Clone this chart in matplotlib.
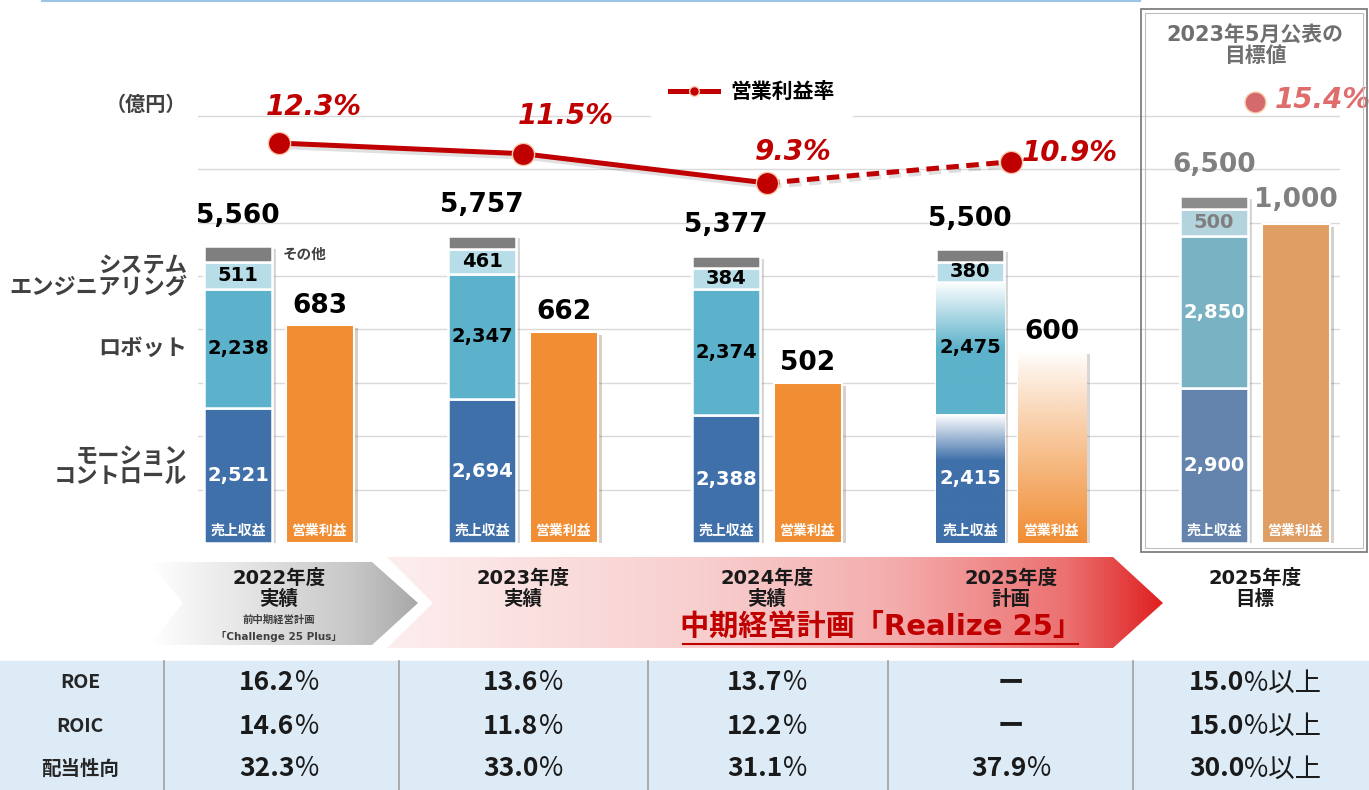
import numpy as np
import matplotlib
matplotlib.use('Agg')
import matplotlib.pyplot as plt
from matplotlib.patches import Polygon, Rectangle
from matplotlib.lines import Line2D
from matplotlib.colors import to_rgb, LinearSegmentedColormap
import matplotlib.patheffects as pe
import matplotlib.transforms as mtransforms

plt.rcParams['font.family'] = ['DejaVu Sans', 'Noto Sans CJK JP']

# ---- data (億円, %) ----
periods = ['2022年度\n実績', '2023年度\n実績', '2024年度\n実績', '2025年度\n計画', '2025年度\n目標']
motion = [2521, 2694, 2388, 2415, 2900]
robot = [2238, 2347, 2374, 2475, 2850]
system_eng = [511, 461, 384, 380, 500]
revenue_total = [5560, 5757, 5377, 5500, 6500]
op_profit = [683, 662, 502, 600, 1000]
op_margin = [12.3, 11.5, 9.3, 10.9, 15.4]

row_names = ['ROE', 'ROIC', '配当性向']
roe = [16.2, 13.6, 13.7, None, 15.0]
roic = [14.6, 11.8, 12.2, None, 15.0]
payout = [32.3, 33.0, 31.1, 37.9, 30.0]

other = [t - m - r - s for t, m, r, s in zip(revenue_total, motion, robot, system_eng)]

# ---- style ----
RED = '#C00000'
GRAY_T = '#7F7F7F'
c_motion = ['#3F70AA'] * 4 + ['#6484AE']
c_robot = ['#5DB2CB'] * 4 + ['#79B3C3']
c_se = ['#B6DDE8'] * 4 + ['#B4D4DD']
c_other = ['#7F7F7F'] * 4 + ['#8C8C8C']
c_profit = ['#F18D33'] * 4 + ['#DE9E64']
margin_label_offsets = [(25, 26), (31, 27), (19, 22), (42, 6), (49, 1.5)]

W, H = 1369, 790
fig = plt.figure(figsize=(W / 100, H / 100), dpi=100)


def fpx(x, y, w, h):
    return [x / W, 1 - (y + h) / H, w / W, h / H]


ax = fig.add_axes(fpx(198, 10, 1142, 533))
ax_p = ax.twinx()
ax_m = ax.twinx()

x = np.arange(len(motion))
off, bw = 0.168, 0.279
XLIM = (-0.332, 4.348)
REV_LIM = (0, 533 / 0.0534)
PRO_LIM = (0, 533 / 0.319)
MAR_LIM = (-17.7, 22.28)

shadow = [pe.SimplePatchShadow(offset=(2.5, -2), alpha=0.22), pe.Normal()]


def fade_bar(axis, bar, color, fade, power=1.0):
    x0, y0 = bar.get_x(), bar.get_y()
    w, h = bar.get_width(), bar.get_height()
    n = 200
    depth = np.linspace(1, 0, n)
    alpha = np.clip(depth / fade, 0, 1) ** power
    rgba = np.zeros((n, 1, 4))
    rgba[..., :3] = to_rgb(color)
    rgba[..., 3] = alpha[:, None]
    axis.imshow(rgba, extent=(x0, x0 + w, y0, y0 + h), origin='lower',
                aspect='auto', interpolation='bilinear', zorder=3.5)
    bar.set_facecolor('white')


# revenue stacks
ax.bar(x - off, revenue_total, bw, color='white', zorder=2, path_effects=shadow)
bottom = np.zeros(len(x))
layers = [
    (motion, c_motion, ['white'] * 5),
    (robot, c_robot, ['black'] * 4 + ['white']),
    (system_eng, c_se, ['black'] * 4 + [GRAY_T]),
    (other, c_other, None),
]
seg_bars = []
for vals, cols, tcols in layers:
    bars = ax.bar(x - off, vals, bw, bottom=bottom, color=cols,
                  edgecolor='white', linewidth=1.8, zorder=3)
    seg_bars.append(bars)
    if tcols:
        for b, v, tc in zip(bars, vals, tcols):
            ax.text(b.get_x() + bw / 2, b.get_y() + v / 2, f'{v:,}', ha='center',
                    va='center', fontsize=14, weight='bold', color=tc, zorder=6)
    bottom += np.array(vals)

fade_bar(ax, seg_bars[0][3], c_motion[3], 0.36)
fade_bar(ax, seg_bars[1][3], c_robot[3], 0.5)

for i, t in enumerate(revenue_total):
    ax.annotate(f'{t:,}', (x[i] - off, t), xytext=(0, 22), textcoords='offset points',
                ha='center', va='center', fontsize=19, weight='bold',
                color='black' if i < 4 else '#808080')
    ax.annotate('売上収益', (x[i] - off, 0), xytext=(0, 9), textcoords='offset points',
                ha='center', va='center', fontsize=10, weight='bold', color='white', zorder=7)

ax.annotate('その他', (x[0] - off + bw / 2, revenue_total[0] - other[0] / 2), xytext=(8, 0),
            textcoords='offset points', ha='left', va='center', fontsize=10.5,
            weight='bold', color='#404040')

# operating profit
pbars = ax_p.bar(x + off, op_profit, bw, color=c_profit, edgecolor='white',
                 linewidth=1.5, zorder=3, path_effects=shadow)
fade_bar(ax_p, pbars[3], c_profit[3], 1.0, power=0.9)
for i, v in enumerate(op_profit):
    ax_p.annotate(f'{v:,}', (x[i] + off, v), xytext=(0, 14 if i < 4 else 17),
                  textcoords='offset points', ha='center', va='center', fontsize=19,
                  weight='bold', color='black' if i < 4 else '#808080')
    ax_p.annotate('営業利益', (x[i] + off, 0), xytext=(0, 9), textcoords='offset points',
                  ha='center', va='center', fontsize=10, weight='bold', color='white', zorder=7)

# operating margin line
lshadow = [pe.SimpleLineShadow(offset=(1.5, -2.5), alpha=0.12), pe.Normal()]
ax_m.plot(x[:3], op_margin[:3], color=RED, lw=3.6, zorder=4, path_effects=lshadow)
ax_m.plot(x[2:4], op_margin[2:4], color=RED, lw=3.6, ls=(0, (2.5, 1.5)), zorder=4,
          path_effects=lshadow)
ax_m.plot(x[:4], op_margin[:4], ls='none', marker='o', ms=16, mfc=RED, mec='#F8CBAD',
          mew=1, zorder=5)
ax_m.plot(x[4:], op_margin[4:], ls='none', marker='o', ms=15, mfc='#D46A6A', mec='#F8CBAD',
          mew=1, zorder=5)
for i, v in enumerate(op_margin):
    ax_m.annotate(f'{v}%', (x[i], v), xytext=margin_label_offsets[i], textcoords='offset points',
                  ha='center', va='center', fontsize=20, weight='bold', style='italic',
                  color=RED if i < 4 else '#E06C6C')

ax.set_yticks(np.arange(1000, 9000, 1000))
ax.grid(axis='y', color='#D9D9D9', lw=1)
ax.set_axisbelow(True)
ax.tick_params(left=False, labelleft=False, bottom=False, labelbottom=False,
               right=False, labelright=False)
for s in ax.spines.values():
    s.set_visible(False)
ax_p.set_axis_off()
ax_m.set_axis_off()
ax.set_xlim(XLIM)
ax.set_ylim(REV_LIM)
ax_p.set_ylim(PRO_LIM)
ax_m.set_ylim(MAR_LIM)

handle = Line2D([0], [0], color=RED, lw=3.6, marker='o', ms=7, mfc=RED, mec='#F8CBAD')
fig.legend(handles=[handle], labels=['営業利益率'], loc='center',
           bbox_to_anchor=(752 / W, 1 - 92 / H), frameon=True, facecolor='white',
           edgecolor='none', framealpha=1, fancybox=False,
           prop={'weight': 'bold', 'size': 15}, handlelength=2.3, handletextpad=0.6,
           borderpad=0.9)

# ---- overlay in pixel coordinates ----
ov = fig.add_axes([0, 0, 1, 1])
ov.set_zorder(10)
ov.patch.set_visible(False)
ov.set_xlim(0, W)
ov.set_ylim(H, 0)
ov.set_axis_off()
blend = mtransforms.blended_transform_factory(ax.transData, ov.transData)

ov.plot([42, 1140], [1, 1], color='#9DC3E6', lw=1.5)

# target box
ov.add_patch(Rectangle((1141, 9), 226, 543, fill=False, edgecolor='#7F7F7F', lw=1.3))
ov.add_patch(Rectangle((1145, 13), 218, 535, fill=False, edgecolor='#BFBFBF', lw=0.8))
ov.text(1255, 46, '2023年5月公表の\n目標値', ha='center', va='center', fontsize=15,
        weight='bold', color='#6F6F6F', linespacing=1.05)

# left labels
lab_kw = dict(ha='right', va='center', weight='bold', color='#404040')
ov.text(186, 105, '（億円）', fontsize=14.5, **lab_kw)
ov.text(187, 277, 'システム\nエンジニアリング', fontsize=16, linespacing=1.05, **lab_kw)
ov.text(187, 349, 'ロボット', fontsize=16, **lab_kw)
ov.text(187, 467, 'モーション\nコントロール', fontsize=16, linespacing=1.05, **lab_kw)


def grad_poly(pts, cmap):
    poly = Polygon(pts, closed=True, facecolor='none', edgecolor='none')
    ov.add_patch(poly)
    xs = [p[0] for p in pts]
    ys = [p[1] for p in pts]
    grad = np.linspace(0, 1, 256)[None, :]
    im = ov.imshow(grad, cmap=cmap, extent=(min(xs), max(xs), max(ys), min(ys)),
                   aspect='auto', interpolation='bilinear', zorder=1)
    im.set_clip_path(poly)


red_cmap = LinearSegmentedColormap.from_list(
    'r', [(0, '#FDEEEE'), (0.4, '#F8CFCF'), (0.65, '#F4ADAD'), (0.88, '#EC7070'), (1, '#E02222')])
gray_cmap = LinearSegmentedColormap.from_list('g', [(0, '#FFFFFF'), (0.75, '#C8C8C8'), (1, '#A8A8A8')])
grad_poly([(387, 557), (1113, 557), (1163, 603), (1113, 648), (387, 648), (433, 603)], red_cmap)
grad_poly([(150, 562), (372, 562), (418, 603), (372, 645), (150, 645), (183, 603)], gray_cmap)

for i, p in enumerate(periods):
    ov.text(x[i], 589, p, transform=blend, ha='center', va='center', fontsize=14,
            weight='bold', color='#1A1A1A', linespacing=1.15, zorder=3)
ov.text(x[0], 620, '前中期経営計画', transform=blend, ha='center', va='center',
        fontsize=7.5, weight='bold', color='#404040', zorder=3)
ov.text(x[0], 636, '「Challenge 25 Plus」', transform=blend, ha='center', va='center',
        fontsize=7.5, weight='bold', color='#404040', zorder=3)
ov.text(881, 627, '中期経営計画「Realize 25」', ha='center', va='center', fontsize=21,
        weight='bold', color=RED, zorder=3)
ov.plot([683, 1078], [644, 644], color=RED, lw=1.5, zorder=3)

# table
ov.add_patch(Rectangle((0, 661), W, H - 661, color='#DDEBF7', zorder=1))
for sx in [164, 399, 648, 888, 1133]:
    ov.plot([sx, sx], [661, H], color='#A6A6A6', lw=1.3, zorder=2)

renderer = fig.canvas.get_renderer()
row_y = [683, 726, 769]
for name, vals, ry in zip(row_names, [roe, roic, payout], row_y):
    ov.text(80, ry, name, ha='center', va='center', fontsize=14, weight='bold',
            family='Noto Sans CJK JP', color='#262626', zorder=3)
    for i, v in enumerate(vals):
        cx = ax.transData.transform((x[i], 0))[0]
        if v is None:
            ov.text(cx, ry, 'ー', ha='center', va='center', fontsize=19, weight='bold',
                    family='Noto Sans CJK JP', color='#1A1A1A', zorder=3)
            continue
        suffix = '%以上' if i == 4 else '%'
        t1 = ov.text(cx, ry, f'{v:.1f}', ha='left', va='center', fontsize=19, weight='bold',
                     family='Noto Sans CJK JP', color='#1A1A1A', zorder=3)
        t2 = ov.text(cx, ry, suffix, ha='left', va='center', fontsize=19, weight='normal',
                     family='Noto Sans CJK JP', color='#1A1A1A', zorder=3)
        w1 = t1.get_window_extent(renderer).width
        w2 = t2.get_window_extent(renderer).width
        start = cx - (w1 + w2) / 2
        t1.set_x(start)
        t2.set_x(start + w1)

ov.set_xlim(0, W)
ov.set_ylim(H, 0)
ax.set_xlim(XLIM)
ax.set_ylim(REV_LIM)
ax_p.set_ylim(PRO_LIM)
ax_m.set_ylim(MAR_LIM)

fig.savefig('out.png', dpi=100)
